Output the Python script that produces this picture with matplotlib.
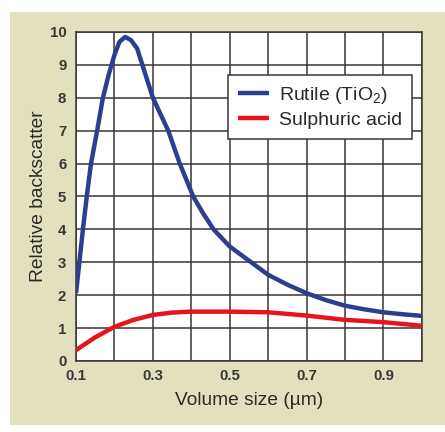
# Relative backscatter vs volume size
import matplotlib.pyplot as plt
from matplotlib.patches import Rectangle

plt.rcParams['font.family'] = ['Liberation Sans', 'DejaVu Sans']
plt.rcParams['mathtext.fontset'] = 'custom'
plt.rcParams['mathtext.rm'] = 'Liberation Sans'

# Data
rutile_x = [0.1, 0.118, 0.128, 0.139, 0.155, 0.17, 0.185, 0.2, 0.213, 0.228, 0.243,
            0.259, 0.3, 0.34, 0.37, 0.405, 0.43, 0.458, 0.5, 0.55, 0.6, 0.65,
            0.7, 0.75, 0.8, 0.85, 0.9, 0.95, 1.0]
rutile_y = [2.06, 4.0, 5.0, 6.0, 7.0, 8.0, 8.7, 9.3, 9.7, 9.85, 9.75,
            9.5, 8.0, 7.0, 6.0, 5.0, 4.5, 4.0, 3.48, 3.05, 2.62, 2.32,
            2.06, 1.85, 1.68, 1.57, 1.48, 1.42, 1.37]
acid_x = [0.1, 0.15, 0.2, 0.25, 0.3, 0.35, 0.4, 0.5, 0.6, 0.7, 0.8, 0.9, 1.0]
acid_y = [0.33, 0.72, 1.04, 1.25, 1.4, 1.47, 1.5, 1.5, 1.48, 1.38, 1.25, 1.18, 1.07]

x_ticks = [0.1, 0.3, 0.5, 0.7, 0.9]
x_tick_labels = ['0.1', '0.3', '0.5', '0.7', '0.9']

fig = plt.figure(figsize=(4.45, 4.32), dpi=100)
fig.patch.set_facecolor('white')
fig.patches.append(Rectangle((0.0225, 0.016), 0.98, 0.956, transform=fig.transFigure,
                             facecolor='#e2e0bf', edgecolor='none', zorder=-10))

ax = fig.add_axes([0.1708, 0.1644, 0.7772, 0.7616])
ax.set_facecolor('white')

ax.plot(rutile_x, rutile_y, color='#2e3e8e', lw=3.2, label='Rutile (TiO$_2$)',
        solid_capstyle='butt', solid_joinstyle='round', zorder=3)
ax.plot(acid_x, acid_y, color='#e8141c', lw=3.2, label='Sulphuric acid',
        solid_capstyle='butt', solid_joinstyle='round', zorder=3)

ax.set_xlim(0.1, 1.0)
ax.set_ylim(0, 10)
ax.set_xticks([0.1 * i for i in range(1, 11)], minor=True)
ax.set_xticks(x_ticks)
ax.set_xticklabels(x_tick_labels, fontweight='bold')
ax.set_yticks(range(0, 11))
ax.set_yticklabels([str(v) for v in range(0, 11)], fontweight='bold')
ax.grid(True, which='both', color='#3a3535', lw=1.1)
ax.tick_params(which='both', length=0, labelsize=10.8, colors='#383838')
ax.tick_params(axis='y', pad=7)
ax.tick_params(axis='x', pad=6)
for s in ax.spines.values():
    s.set_color('#3a3535')
    s.set_linewidth(1.1)

ax.set_xlabel('Volume size (µm)', fontsize=13.8, color='#2a2a2a', labelpad=6)
ax.set_ylabel('Relative backscatter', fontsize=13.8, color='#2a2a2a', labelpad=2)

leg = ax.legend(loc='upper right', bbox_to_anchor=(0.971, 0.869), fontsize=14,
                frameon=True, fancybox=False, framealpha=1, edgecolor='#3a3535',
                handlelength=1.6, handletextpad=0.5, borderpad=0.5, labelspacing=0.3,
                borderaxespad=0)
leg.get_frame().set_linewidth(1.1)
for t in leg.get_texts():
    t.set_color('#2a2a2a')

plt.savefig('out.png', dpi=100)
